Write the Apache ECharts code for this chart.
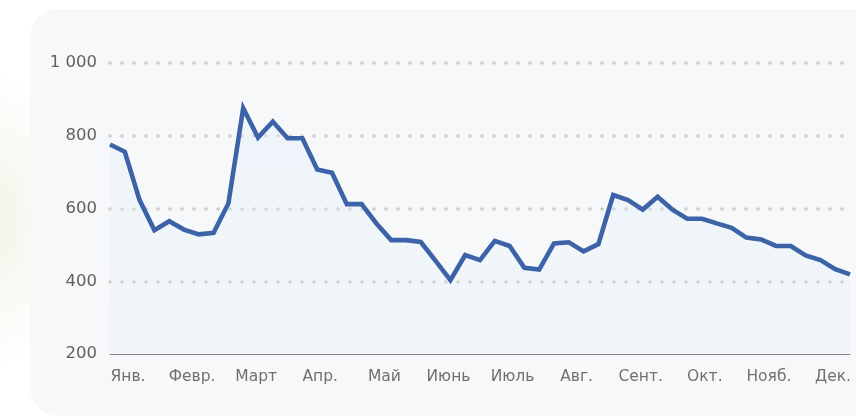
<!DOCTYPE html>
<html>
<head>
<meta charset="utf-8">
<script src="https://cdn.jsdelivr.net/npm/echarts@6/dist/echarts.min.js"></script>
<style>
  html, body { margin: 0; padding: 0; width: 856px; height: 417px; overflow: hidden; background: #ffffff; }
  #glow { position: absolute; left: -70px; top: 70px; width: 140px; height: 300px;
          background: radial-gradient(ellipse at center, rgba(205,218,175,0.28) 0%, rgba(255,255,255,0) 70%); }
  #card { position: absolute; left: 30px; top: 9px; width: 860px; height: 407px;
          background: #f6f8fa; border-radius: 28px; }
  #chart { position: absolute; left: 0; top: 0; width: 856px; height: 417px; }
</style>
</head>
<body>
<div id="glow"></div>
<div id="card"></div>
<div id="chart"></div>
<script>
// Weekly values (51 points)
const weeks = [];
for (let i = 1; i <= 51; i++) weeks.push('W' + i);
const values = [
  776, 756, 623, 540, 565, 542, 529, 533, 614, 876,
  795, 839, 793, 793, 707, 698, 612, 612, 559, 513,
  513, 508, 456, 403, 472, 458, 511, 497, 437, 432,
  504, 507, 482, 502, 637, 623, 597, 632, 597, 572,
  572, 559, 547, 520, 515, 497, 497, 471, 458, 433,
  419
];
const months = ['Янв.', 'Февр.', 'Март', 'Апр.', 'Май', 'Июнь', 'Июль', 'Авг.', 'Сент.', 'Окт.', 'Нояб.', 'Дек.'];
const yTicks = { min: 200, max: 1000, interval: 200 };

const font = 'DejaVu Sans';
const chart = echarts.init(document.getElementById('chart'), null, { renderer: 'canvas' });
chart.setOption({
  animation: false,
  backgroundColor: 'transparent',
  grid: [
    { left: 110, right: 6, top: 63, bottom: 63, containLabel: false },
    { left: 128, right: 23, top: 63, bottom: 63, containLabel: false }
  ],
  xAxis: [
    {
      type: 'category', gridIndex: 0, data: weeks, boundaryGap: false,
      axisLine: { show: true, lineStyle: { color: '#858585', width: 1 } },
      axisTick: { show: false }, axisLabel: { show: false }, splitLine: { show: false }
    },
    {
      type: 'category', gridIndex: 1, data: months, boundaryGap: false,
      axisLine: { show: false }, axisTick: { show: false }, splitLine: { show: false },
      axisLabel: { show: true, interval: 0, color: '#707070', fontFamily: font, fontSize: 15.5, margin: 15 }
    }
  ],
  yAxis: [
    {
      type: 'value', gridIndex: 0, min: yTicks.min, max: yTicks.max, interval: yTicks.interval,
      axisLine: { show: false }, axisTick: { show: false },
      axisLabel: {
        color: '#606060', fontFamily: font, fontSize: 16.5, margin: 13,
        formatter: v => v >= 1000 ? String(v).replace(/\B(?=(\d{3})+(?!\d))/g, ' ') : String(v)
      },
      splitLine: {
        show: true, showMinLine: false,
        lineStyle: { color: '#cccccc', width: 3.6, type: [0, 12], cap: 'round' }
      }
    },
    {
      type: 'value', gridIndex: 1, min: yTicks.min, max: yTicks.max, interval: yTicks.interval,
      show: false
    }
  ],
  series: [
    {
      type: 'line', xAxisIndex: 0, yAxisIndex: 0, data: values,
      showSymbol: false, symbol: 'none',
      lineStyle: { color: '#3c63a7', width: 4.6, join: 'miter' },
      areaStyle: {
        origin: 'start',
        color: new echarts.graphic.LinearGradient(0, 0, 0, 1, [
          { offset: 0, color: 'rgba(226,238,250,0.55)' },
          { offset: 1, color: 'rgba(226,238,250,0.25)' }
        ])
      }
    }
  ]
});
</script>
</body>
</html>
